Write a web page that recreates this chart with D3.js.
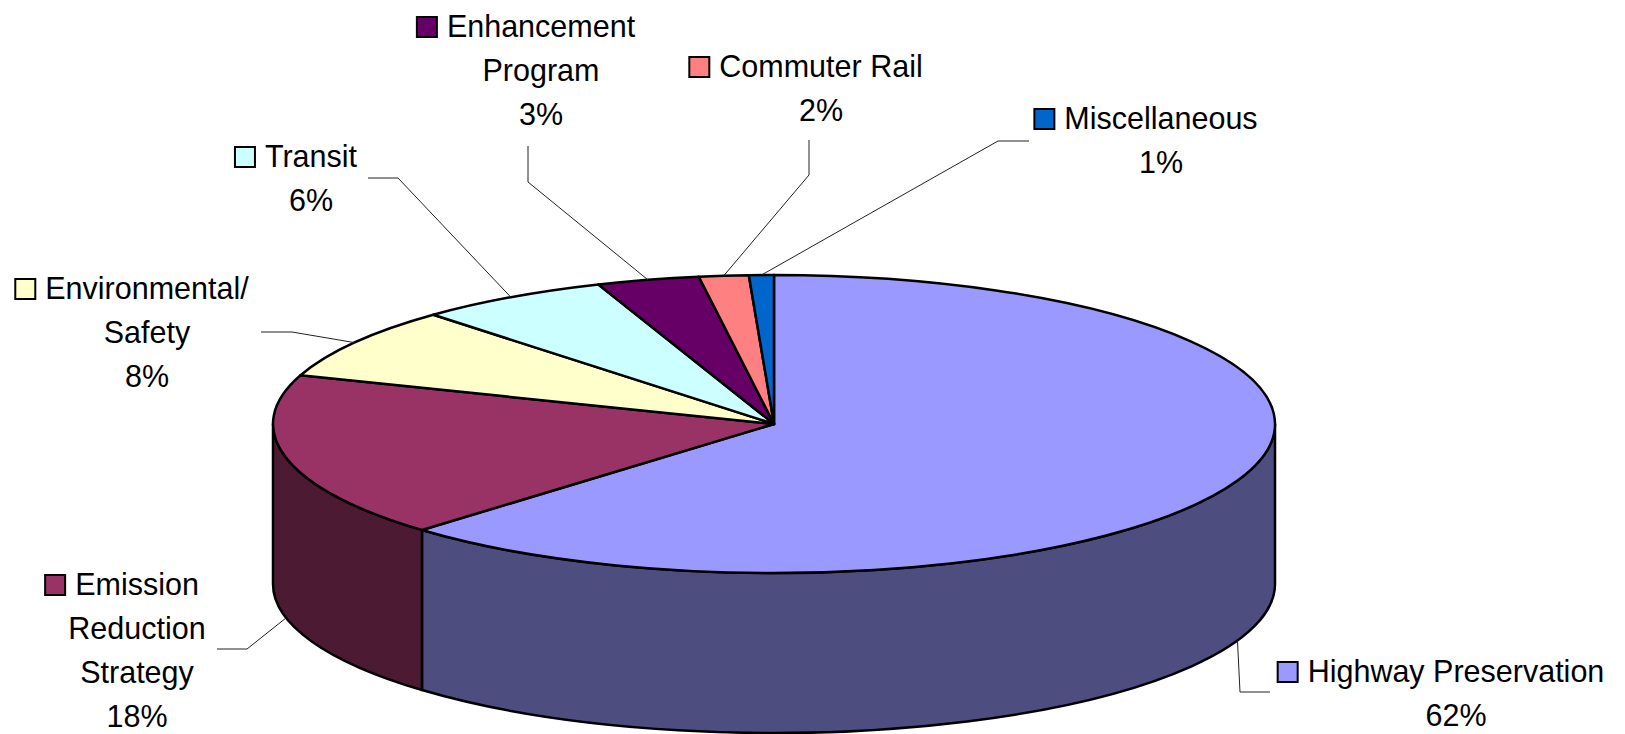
<!DOCTYPE html>
<html>
<head>
<meta charset="utf-8">
<script src="https://cdn.jsdelivr.net/npm/d3@7"></script>
<style>
  html, body { margin: 0; padding: 0; background: #fff; }
  svg { display: block; }
  text { font-family: "Liberation Sans", Arial, sans-serif; fill: #000; }
</style>
</head>
<body>
<svg id="chart" width="1625" height="734"></svg>
<script>
// ---- data ----
const categories = ["Highway Preservation", "Emission Reduction Strategy", "Environmental/ Safety",
                    "Transit", "Enhancement Program", "Commuter Rail", "Miscellaneous"];
const values = [62.4, 17.9, 7.8, 6.2, 3.3, 1.6, 0.8];
const topColors = ["#9999FF", "#993366", "#FFFFCC", "#CCFFFF", "#660066", "#FF8080", "#0066CC"];

// ---- layout (label placement, leader elbows, wrap widths) ----
const labelCenterX = [1456, 137, 147, 311, 541, 821, 1161];
const labelBaseline = [682, 595, 299, 167, 37, 77, 129];
const wrapWidth = [330, 150, 215, 200, 200, 240, 240];
const leaderElbow = [[1240, 692], [247, 649], [292, 332], [398, 178], [528, 182], [809, 175], [998, 141]];
const leaderEnd = [[1270, 692], [217, 649], [261, 332], [368, 178], [528, 146], [809, 140], [1029, 141]];

const W = 1625, H = 734;
const cx = 774, cy = 424, rx = 501, ry = 149, depth = 160;
const fontSize = 30.5, lineH = 44, keySize = 20, keyGap = 10;

const svg = d3.select("#chart");
const total = d3.sum(values);
const pie = d3.pie().sort(null).value(d => d)(values);

const pt = (a, dy = 0) => [cx + rx * Math.sin(a), cy - ry * Math.cos(a) + dy];
const half = c => { const r = d3.rgb(c); return d3.rgb(r.r * 0.5, r.g * 0.5, r.b * 0.5).formatHex(); };

// ---- side walls (front half only) ----
const walls = svg.append("g");
pie.forEach((d, i) => {
  const a0 = Math.max(d.startAngle, Math.PI / 2);
  const a1 = Math.min(d.endAngle, 3 * Math.PI / 2);
  if (a0 >= a1) return;
  const p0 = pt(a0), p1 = pt(a1), q1 = pt(a1, depth), q0 = pt(a0, depth);
  const path = `M${p0}A${rx},${ry} 0 0 1 ${p1}L${q1}A${rx},${ry} 0 0 0 ${q0}Z`;
  walls.append("path").attr("d", path)
    .attr("fill", half(topColors[i]))
    .attr("stroke", "#000").attr("stroke-width", 2.5).attr("stroke-linejoin", "round");
});

// ---- top faces ----
const tops = svg.append("g");
pie.forEach((d, i) => {
  const s = d.startAngle, e = d.endAngle;
  const large = (e - s) > Math.PI ? 1 : 0;
  const path = `M${cx},${cy}L${pt(s)}A${rx},${ry} 0 ${large} 1 ${pt(e)}Z`;
  tops.append("path").attr("d", path)
    .attr("fill", topColors[i])
    .attr("stroke", "#000").attr("stroke-width", 2.5).attr("stroke-linejoin", "round");
});

// ---- leader lines ----
const leaders = svg.append("g");
pie.forEach((d, i) => {
  const mid = (d.startAngle + d.endAngle) / 2;
  const front = mid > Math.PI / 2 && mid < 3 * Math.PI / 2;
  const start = pt(mid, front ? depth : 0);
  leaders.append("polyline")
    .attr("points", [start, leaderElbow[i], leaderEnd[i]].map(p => p.join(",")).join(" "))
    .attr("fill", "none").attr("stroke", "#222").attr("stroke-width", 1);
});

// ---- labels ----
const labels = svg.append("g");
function wrapWords(text, maxW) {
  const words = text.split(/\s+/);
  const tmp = labels.append("text").style("font-size", fontSize + "px");
  const lines = [];
  let cur = "";
  words.forEach(w => {
    const test = cur ? cur + " " + w : w;
    tmp.text(test);
    if (tmp.node().getComputedTextLength() > maxW && cur) { lines.push(cur); cur = w; }
    else cur = test;
  });
  if (cur) lines.push(cur);
  tmp.remove();
  return lines;
}
categories.forEach((name, i) => {
  const lines = wrapWords(name, wrapWidth[i]);
  lines.push(Math.round(values[i] / total * 100) + "%");
  const g = labels.append("g");
  const t = g.append("text").attr("text-anchor", "middle").style("font-size", fontSize + "px");
  lines.forEach((ln, k) => {
    t.append("tspan").attr("x", labelCenterX[i]).attr("y", labelBaseline[i] + k * lineH).text(ln);
  });
  const firstW = t.select("tspan").node().getComputedTextLength();
  const left = labelCenterX[i] - firstW / 2;
  g.append("rect")
    .attr("x", left - keyGap - keySize).attr("y", labelBaseline[i] - keySize)
    .attr("width", keySize).attr("height", keySize)
    .attr("fill", topColors[i]).attr("stroke", "#000").attr("stroke-width", 2);
});
</script>
</body>
</html>
